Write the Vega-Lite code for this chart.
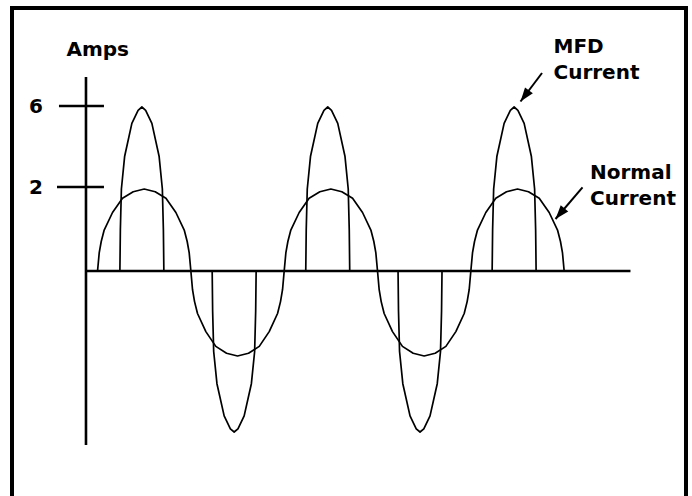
{
  "$schema": "https://vega.github.io/schema/vega-lite/v6.json",
  "width": 674,
  "height": 488,
  "autosize": {"type": "none"},
  "padding": {"left": 12, "top": 8, "right": 6, "bottom": 0},
  "background": "white",
  "config": {"view": {"stroke": null}, "font": "DejaVu Sans"},
  "datasets": {
    "frame": [
      {"side": "left", "x": -165, "x2": -165, "y": 12.8, "y2": -12},
      {"side": "right", "x": 1135, "x2": 1135, "y": 12.8, "y2": -12},
      {"side": "top", "x": -165, "x2": 1135, "y": 12.8, "y2": 12.8}
    ],
    "axes": [
      {"axis": "amps", "x": -22.3, "x2": -22.3, "y": 7.804, "y2": -6.54},
      {"axis": "time", "x": -22.3, "x2": 1027.9, "y": 0, "y2": 0}
    ],
    "currents": [
      {"series": "Normal Current", "deg": 0, "amps": 0},
      {"series": "Normal Current", "deg": 3.2, "amps": 0.164},
      {"series": "Normal Current", "deg": 7.1, "amps": 0.365},
      {"series": "Normal Current", "deg": 12.8, "amps": 0.623},
      {"series": "Normal Current", "deg": 28.9, "amps": 1.111},
      {"series": "Normal Current", "deg": 48.1, "amps": 1.582},
      {"series": "Normal Current", "deg": 68.8, "amps": 1.822},
      {"series": "Normal Current", "deg": 90, "amps": 1.924},
      {"series": "Normal Current", "deg": 111.2, "amps": 1.822},
      {"series": "Normal Current", "deg": 131.9, "amps": 1.582},
      {"series": "Normal Current", "deg": 151.1, "amps": 1.111},
      {"series": "Normal Current", "deg": 167.2, "amps": 0.623},
      {"series": "Normal Current", "deg": 172.9, "amps": 0.365},
      {"series": "Normal Current", "deg": 176.8, "amps": 0.164},
      {"series": "Normal Current", "deg": 180, "amps": 0},
      {"series": "Normal Current", "deg": 183.2, "amps": -0.174},
      {"series": "Normal Current", "deg": 187.1, "amps": -0.387},
      {"series": "Normal Current", "deg": 192.8, "amps": -0.661},
      {"series": "Normal Current", "deg": 208.9, "amps": -1.177},
      {"series": "Normal Current", "deg": 228.1, "amps": -1.678},
      {"series": "Normal Current", "deg": 248.8, "amps": -1.932},
      {"series": "Normal Current", "deg": 270, "amps": -2.04},
      {"series": "Normal Current", "deg": 291.2, "amps": -1.932},
      {"series": "Normal Current", "deg": 311.9, "amps": -1.678},
      {"series": "Normal Current", "deg": 331.1, "amps": -1.177},
      {"series": "Normal Current", "deg": 347.2, "amps": -0.661},
      {"series": "Normal Current", "deg": 352.9, "amps": -0.387},
      {"series": "Normal Current", "deg": 356.8, "amps": -0.174},
      {"series": "Normal Current", "deg": 360, "amps": 0},
      {"series": "Normal Current", "deg": 363.2, "amps": 0.164},
      {"series": "Normal Current", "deg": 367.1, "amps": 0.365},
      {"series": "Normal Current", "deg": 372.8, "amps": 0.623},
      {"series": "Normal Current", "deg": 388.9, "amps": 1.111},
      {"series": "Normal Current", "deg": 408.1, "amps": 1.582},
      {"series": "Normal Current", "deg": 428.8, "amps": 1.822},
      {"series": "Normal Current", "deg": 450, "amps": 1.924},
      {"series": "Normal Current", "deg": 471.2, "amps": 1.822},
      {"series": "Normal Current", "deg": 491.9, "amps": 1.582},
      {"series": "Normal Current", "deg": 511.1, "amps": 1.111},
      {"series": "Normal Current", "deg": 527.2, "amps": 0.623},
      {"series": "Normal Current", "deg": 532.9, "amps": 0.365},
      {"series": "Normal Current", "deg": 536.8, "amps": 0.164},
      {"series": "Normal Current", "deg": 540, "amps": 0},
      {"series": "Normal Current", "deg": 543.2, "amps": -0.174},
      {"series": "Normal Current", "deg": 547.1, "amps": -0.387},
      {"series": "Normal Current", "deg": 552.8, "amps": -0.661},
      {"series": "Normal Current", "deg": 568.9, "amps": -1.177},
      {"series": "Normal Current", "deg": 588.1, "amps": -1.678},
      {"series": "Normal Current", "deg": 608.8, "amps": -1.932},
      {"series": "Normal Current", "deg": 630, "amps": -2.04},
      {"series": "Normal Current", "deg": 651.2, "amps": -1.932},
      {"series": "Normal Current", "deg": 671.9, "amps": -1.678},
      {"series": "Normal Current", "deg": 691.1, "amps": -1.177},
      {"series": "Normal Current", "deg": 707.2, "amps": -0.661},
      {"series": "Normal Current", "deg": 712.9, "amps": -0.387},
      {"series": "Normal Current", "deg": 716.8, "amps": -0.174},
      {"series": "Normal Current", "deg": 720, "amps": 0},
      {"series": "Normal Current", "deg": 723.2, "amps": 0.164},
      {"series": "Normal Current", "deg": 727.1, "amps": 0.365},
      {"series": "Normal Current", "deg": 732.8, "amps": 0.623},
      {"series": "Normal Current", "deg": 748.9, "amps": 1.111},
      {"series": "Normal Current", "deg": 768.1, "amps": 1.582},
      {"series": "Normal Current", "deg": 788.8, "amps": 1.822},
      {"series": "Normal Current", "deg": 810, "amps": 1.924},
      {"series": "Normal Current", "deg": 831.2, "amps": 1.822},
      {"series": "Normal Current", "deg": 851.9, "amps": 1.582},
      {"series": "Normal Current", "deg": 871.1, "amps": 1.111},
      {"series": "Normal Current", "deg": 887.2, "amps": 0.623},
      {"series": "Normal Current", "deg": 892.9, "amps": 0.365},
      {"series": "Normal Current", "deg": 896.8, "amps": 0.164},
      {"series": "Normal Current", "deg": 900, "amps": 0},
      {"series": "MFD Current", "deg": 43.1, "amps": 0},
      {"series": "MFD Current", "deg": 44.0, "amps": 0.623},
      {"series": "MFD Current", "deg": 46.0, "amps": 1.924},
      {"series": "MFD Current", "deg": 52.3, "amps": 3.325},
      {"series": "MFD Current", "deg": 66.2, "amps": 5.003},
      {"series": "MFD Current", "deg": 78.2, "amps": 5.746},
      {"series": "MFD Current", "deg": 85.5, "amps": 5.939},
      {"series": "MFD Current", "deg": 92.8, "amps": 5.746},
      {"series": "MFD Current", "deg": 104.8, "amps": 5.003},
      {"series": "MFD Current", "deg": 118.7, "amps": 3.325},
      {"series": "MFD Current", "deg": 125.0, "amps": 1.924},
      {"series": "MFD Current", "deg": 127.0, "amps": 0.623},
      {"series": "MFD Current", "deg": 127.9, "amps": 0},
      {"series": "MFD Current", "deg": 221.1, "amps": 0},
      {"series": "MFD Current", "deg": 222.0, "amps": -0.605},
      {"series": "MFD Current", "deg": 224.0, "amps": -1.867},
      {"series": "MFD Current", "deg": 230.3, "amps": -3.227},
      {"series": "MFD Current", "deg": 244.2, "amps": -4.855},
      {"series": "MFD Current", "deg": 256.2, "amps": -5.577},
      {"series": "MFD Current", "deg": 263.5, "amps": -5.763},
      {"series": "MFD Current", "deg": 270.8, "amps": -5.577},
      {"series": "MFD Current", "deg": 282.8, "amps": -4.855},
      {"series": "MFD Current", "deg": 296.7, "amps": -3.227},
      {"series": "MFD Current", "deg": 303.0, "amps": -1.867},
      {"series": "MFD Current", "deg": 305.0, "amps": -0.605},
      {"series": "MFD Current", "deg": 305.9, "amps": 0},
      {"series": "MFD Current", "deg": 401.6, "amps": 0},
      {"series": "MFD Current", "deg": 402.5, "amps": 0.623},
      {"series": "MFD Current", "deg": 404.5, "amps": 1.924},
      {"series": "MFD Current", "deg": 410.8, "amps": 3.325},
      {"series": "MFD Current", "deg": 424.7, "amps": 5.003},
      {"series": "MFD Current", "deg": 436.7, "amps": 5.746},
      {"series": "MFD Current", "deg": 444.0, "amps": 5.939},
      {"series": "MFD Current", "deg": 451.3, "amps": 5.746},
      {"series": "MFD Current", "deg": 463.3, "amps": 5.003},
      {"series": "MFD Current", "deg": 477.2, "amps": 3.325},
      {"series": "MFD Current", "deg": 483.5, "amps": 1.924},
      {"series": "MFD Current", "deg": 485.5, "amps": 0.623},
      {"series": "MFD Current", "deg": 486.4, "amps": 0},
      {"series": "MFD Current", "deg": 579.6, "amps": 0},
      {"series": "MFD Current", "deg": 580.5, "amps": -0.605},
      {"series": "MFD Current", "deg": 582.5, "amps": -1.867},
      {"series": "MFD Current", "deg": 588.8, "amps": -3.227},
      {"series": "MFD Current", "deg": 602.7, "amps": -4.855},
      {"series": "MFD Current", "deg": 614.7, "amps": -5.577},
      {"series": "MFD Current", "deg": 622.0, "amps": -5.763},
      {"series": "MFD Current", "deg": 629.3, "amps": -5.577},
      {"series": "MFD Current", "deg": 641.3, "amps": -4.855},
      {"series": "MFD Current", "deg": 655.2, "amps": -3.227},
      {"series": "MFD Current", "deg": 661.5, "amps": -1.867},
      {"series": "MFD Current", "deg": 663.5, "amps": -0.605},
      {"series": "MFD Current", "deg": 664.4, "amps": 0},
      {"series": "MFD Current", "deg": 761.1, "amps": 0},
      {"series": "MFD Current", "deg": 762.0, "amps": 0.623},
      {"series": "MFD Current", "deg": 764.0, "amps": 1.924},
      {"series": "MFD Current", "deg": 770.3, "amps": 3.325},
      {"series": "MFD Current", "deg": 784.2, "amps": 5.003},
      {"series": "MFD Current", "deg": 796.2, "amps": 5.746},
      {"series": "MFD Current", "deg": 803.5, "amps": 5.939},
      {"series": "MFD Current", "deg": 810.8, "amps": 5.746},
      {"series": "MFD Current", "deg": 822.8, "amps": 5.003},
      {"series": "MFD Current", "deg": 836.7, "amps": 3.325},
      {"series": "MFD Current", "deg": 843.0, "amps": 1.924},
      {"series": "MFD Current", "deg": 845.0, "amps": 0.623},
      {"series": "MFD Current", "deg": 845.9, "amps": 0}
    ],
    "ticks": [
      {"value": 6, "from": -74.4, "to": 12.4},
      {"value": 2, "from": -78.2, "to": 12.4}
    ],
    "tickLabels": [
      {"text": "6", "deg": -118.7, "amps": 6},
      {"text": "2", "deg": -118.7, "amps": 2}
    ],
    "titles": [
      {"text": "Amps", "deg": -60.0, "amps": 9.222},
      {"text": "MFD", "deg": 879.4, "amps": 9.433},
      {"text": "Current", "deg": 879.4, "amps": 7.673},
      {"text": "Normal", "deg": 949.8, "amps": 2.32},
      {"text": "Current", "deg": 949.8, "amps": 1.352}
    ],
    "arrows": [
      {"name": "MFD", "deg": 857.3, "amps": 8.067, "deg2": 815.8, "amps2": 6.265},
      {"name": "Normal", "deg": 935.4, "amps": 1.989, "deg2": 883.3, "amps2": 0.9173}
    ]
  },
  "layer": [
    {
      "data": {"name": "frame"},
      "mark": {"type": "rule", "color": "black", "strokeWidth": 4, "strokeCap": "square"},
      "encoding": {
        "x": {"field": "x", "type": "quantitative", "scale": {"type": "linear", "domain": [-165, 1135], "nice": false, "zero": false}, "axis": null},
        "x2": {"field": "x2"},
        "y": {"field": "y", "type": "quantitative", "scale": {"type": "pow", "exponent": 0.615, "domain": [-9.931, 12.8], "nice": false, "zero": false}, "axis": null},
        "y2": {"field": "y2"}
      }
    },
    {
      "data": {"name": "axes"},
      "mark": {"type": "rule", "color": "black", "strokeWidth": 2.6},
      "encoding": {
        "x": {"field": "x", "type": "quantitative", "scale": {"type": "linear", "domain": [-165, 1135], "nice": false, "zero": false}, "axis": null},
        "x2": {"field": "x2"},
        "y": {"field": "y", "type": "quantitative", "scale": {"type": "pow", "exponent": 0.615, "domain": [-9.931, 12.8], "nice": false, "zero": false}, "axis": null},
        "y2": {"field": "y2"}
      }
    },
    {
      "data": {"name": "ticks"},
      "mark": {"type": "rule", "color": "black", "strokeWidth": 2.6},
      "encoding": {
        "x": {"field": "from", "type": "quantitative", "scale": {"type": "linear", "domain": [-165, 1135], "nice": false, "zero": false}, "axis": null},
        "x2": {"field": "to"},
        "y": {"field": "value", "type": "quantitative", "scale": {"type": "pow", "exponent": 0.615, "domain": [-9.931, 12.8], "nice": false, "zero": false}, "axis": null}
      }
    },
    {
      "data": {"name": "currents"},
      "mark": {"type": "line", "color": "black", "strokeWidth": 1.7, "strokeJoin": "round"},
      "encoding": {
        "x": {"field": "deg", "type": "quantitative", "scale": {"type": "linear", "domain": [-165, 1135], "nice": false, "zero": false}, "axis": null},
        "y": {"field": "amps", "type": "quantitative", "scale": {"type": "pow", "exponent": 0.615, "domain": [-9.931, 12.8], "nice": false, "zero": false}, "axis": null},
        "detail": {"field": "series", "type": "nominal"}
      }
    },
    {
      "data": {"name": "tickLabels"},
      "mark": {"type": "text", "align": "center", "baseline": "middle", "dy": 1, "fontSize": 20, "fontWeight": "bold", "font": "DejaVu Sans", "color": "black"},
      "encoding": {
        "x": {"field": "deg", "type": "quantitative", "scale": {"type": "linear", "domain": [-165, 1135], "nice": false, "zero": false}, "axis": null},
        "y": {"field": "amps", "type": "quantitative", "scale": {"type": "pow", "exponent": 0.615, "domain": [-9.931, 12.8], "nice": false, "zero": false}, "axis": null},
        "text": {"field": "text", "type": "nominal"}
      }
    },
    {
      "data": {"name": "titles"},
      "mark": {"type": "text", "align": "left", "baseline": "alphabetic", "fontSize": 20, "fontWeight": "bold", "font": "DejaVu Sans", "color": "black"},
      "encoding": {
        "x": {"field": "deg", "type": "quantitative", "scale": {"type": "linear", "domain": [-165, 1135], "nice": false, "zero": false}, "axis": null},
        "y": {"field": "amps", "type": "quantitative", "scale": {"type": "pow", "exponent": 0.615, "domain": [-9.931, 12.8], "nice": false, "zero": false}, "axis": null},
        "text": {"field": "text", "type": "nominal"}
      }
    },
    {
      "data": {"name": "arrows"},
      "mark": {"type": "rule", "color": "black", "strokeWidth": 2},
      "encoding": {
        "x": {"field": "deg", "type": "quantitative", "scale": {"type": "linear", "domain": [-165, 1135], "nice": false, "zero": false}, "axis": null},
        "y": {"field": "amps", "type": "quantitative", "scale": {"type": "pow", "exponent": 0.615, "domain": [-9.931, 12.8], "nice": false, "zero": false}, "axis": null},
        "x2": {"field": "deg2"},
        "y2": {"field": "amps2"}
      }
    },
    {
      "data": {"name": "arrows"},
      "transform": [{"filter": "datum.name === 'MFD'"}],
      "mark": {"type": "point", "shape": "M0,0L0.7,2L-0.7,2Z", "filled": true, "size": 196, "angle": 217, "color": "black", "opacity": 1},
      "encoding": {
        "x": {"field": "deg2", "type": "quantitative", "scale": {"type": "linear", "domain": [-165, 1135], "nice": false, "zero": false}, "axis": null},
        "y": {"field": "amps2", "type": "quantitative", "scale": {"type": "pow", "exponent": 0.615, "domain": [-9.931, 12.8], "nice": false, "zero": false}, "axis": null}
      }
    },
    {
      "data": {"name": "arrows"},
      "transform": [{"filter": "datum.name === 'Normal'"}],
      "mark": {"type": "point", "shape": "M0,0L0.7,2L-0.7,2Z", "filled": true, "size": 196, "angle": 220, "color": "black", "opacity": 1},
      "encoding": {
        "x": {"field": "deg2", "type": "quantitative", "scale": {"type": "linear", "domain": [-165, 1135], "nice": false, "zero": false}, "axis": null},
        "y": {"field": "amps2", "type": "quantitative", "scale": {"type": "pow", "exponent": 0.615, "domain": [-9.931, 12.8], "nice": false, "zero": false}, "axis": null}
      }
    }
  ]
}
